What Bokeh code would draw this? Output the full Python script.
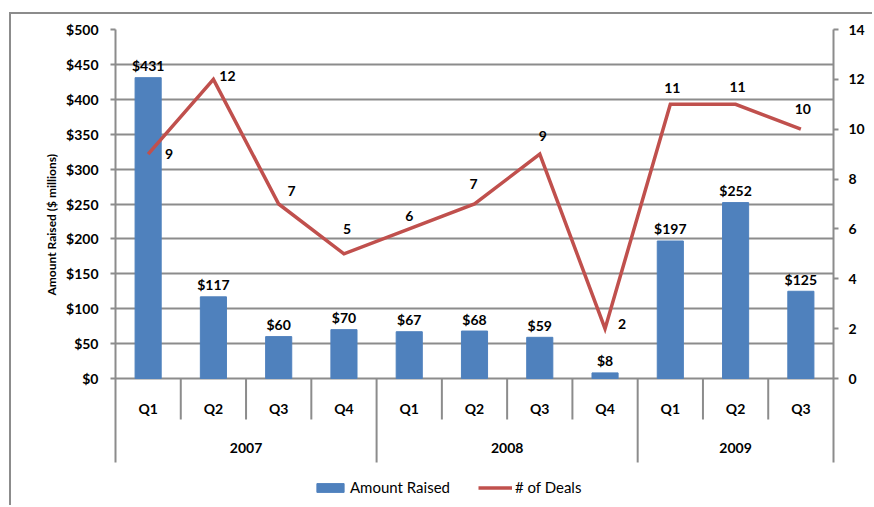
from bokeh.plotting import figure
from bokeh.models import (Range1d, LinearAxis, FixedTicker, PrintfTickFormatter,
                          ColumnDataSource, Legend, LegendItem, Title)
from bokeh.core.properties import value
from bokeh.embed import file_html
from bokeh.resources import INLINE
import math

# ---------------- data ----------------
years = ["2007", "2007", "2007", "2007", "2008", "2008", "2008", "2008", "2009", "2009", "2009"]
quarters = ["Q1", "Q2", "Q3", "Q4", "Q1", "Q2", "Q3", "Q4", "Q1", "Q2", "Q3"]
amount_raised = [431, 117, 60, 70, 67, 68, 59, 8, 197, 252, 125]
num_deals = [9, 12, 7, 5, 6, 7, 9, 2, 11, 11, 10]
left_ticks = [0, 50, 100, 150, 200, 250, 300, 350, 400, 450, 500]
right_ticks = [0, 2, 4, 6, 8, 10, 12, 14]

# ---------------- style / layout ----------------
FONT = "Lato"
BAR = "#4F81BD"
LINE = "#C0504D"
GRID = "#8c8c8c"
OFF_X, OFF_Y = 11, 14                # canvas origin on the page (after border)
W, H = 874 - OFF_X, 507 - OFF_Y
FR_L, FR_R, FR_T = 115 - OFF_X, 41, 29 - OFF_Y
PLOT_PX = 349                        # px from value 0 to top value
BELOW_PX = H - FR_T - PLOT_PX        # px of frame below the zero line
TABLE_PX = 84                        # depth of the category table
QSEP_PX = 41
# label offsets for the "# of Deals" data labels (pixels)
deal_dx = [21, 14, 13, 3, 0, -1, 3, 17, 2, 2, 2]
deal_dy = [0, -3, -13, -25, -13, -20, -18, -5, -16, -17, -20]

n = len(quarters)
xs = [i + 0.5 for i in range(n)]
ymax_l, ymax_r = left_ticks[-1], right_ticks[-1]
ymin_l = -BELOW_PX / PLOT_PX * ymax_l
ymin_r = -BELOW_PX / PLOT_PX * ymax_r

p = figure(width=W, height=H, output_backend="svg", toolbar_location=None,
           x_range=Range1d(0, n), y_range=Range1d(ymin_l, ymax_l),
           x_axis_location=None, min_border_left=FR_L, min_border_right=FR_R,
           min_border_top=FR_T, min_border_bottom=0)
p.styles = {"margin-left": "9px", "margin-top": "12px",
            "border-left": "2px solid #8c8c8c", "border-top": "2px solid #8c8c8c"}
p.outline_line_color = None
p.background_fill_color = "white"
p.border_fill_color = "white"
p.extra_y_ranges = {"deals": Range1d(ymin_r, ymax_r)}

# grid
p.xgrid.visible = False
p.ygrid.ticker = FixedTicker(ticks=left_ticks)
p.ygrid.bounds = (0, ymax_l)
p.ygrid.grid_line_color = GRID
p.ygrid.grid_line_width = 2

def style_axis(ax):
    ax.axis_line_color = GRID
    ax.axis_line_width = 2
    ax.major_tick_line_color = GRID
    ax.major_tick_line_width = 2
    ax.major_tick_out = 5
    ax.major_tick_in = 0
    ax.minor_tick_line_color = None
    ax.major_label_text_font = FONT
    ax.major_label_text_font_style = "bold"
    ax.major_label_text_font_size = "14px"
    ax.major_label_text_color = "#000000"

ly = p.yaxis[0]
style_axis(ly)
ly.ticker = FixedTicker(ticks=left_ticks)
ly.formatter = PrintfTickFormatter(format="$%d")
ly.bounds = (-TABLE_PX / PLOT_PX * ymax_l, ymax_l)
ly.major_label_standoff = 12

ry = LinearAxis(y_range_name="deals", ticker=FixedTicker(ticks=right_ticks))
style_axis(ry)
ry.bounds = (-TABLE_PX / PLOT_PX * ymax_r, ymax_r)
ry.major_label_standoff = 10
p.add_layout(ry, "right")

ttl = Title(text="Amount Raised ($ millions)", align="left", offset=212,
            text_font=FONT, text_font_size="12px", text_font_style="bold",
            text_color="#000000")
p.add_layout(ttl, "left")

# bars & line
src = ColumnDataSource(dict(x=xs, amt=amount_raised, deals=num_deals,
                            amt_lbl=["$%d" % v for v in amount_raised],
                            deal_lbl=[str(v) for v in num_deals],
                            dx=deal_dx, dy=deal_dy, q=quarters))
bars = p.vbar(x="x", top="amt", width=0.4, bottom=0, source=src,
              fill_color=BAR, line_color=BAR)
line = p.line(x="x", y="deals", source=src, y_range_name="deals",
              line_color=LINE, line_width=3.5, line_join="miter")

p.text(x="x", y="amt", text="amt_lbl", source=src, text_align="center",
       text_baseline="alphabetic", y_offset=-12, text_font=value(FONT),
       text_font_style="bold", text_font_size="14px", text_color="#000000")
p.text(x="x", y="deals", text="deal_lbl", source=src, y_range_name="deals",
       x_offset="dx", y_offset="dy", text_align="center", text_baseline="middle",
       text_font=value(FONT), text_font_style="bold", text_font_size="14px",
       text_color="#000000")

# category table below the zero line
p.text(x="x", y=0, text="q", source=src, text_align="center", text_baseline="middle",
       y_offset=30, text_font=value(FONT), text_font_style="bold",
       text_font_size="14px", text_color="#000000")

year_names, year_start, year_end = [], [], []
for i, y in enumerate(years):
    if not year_names or year_names[-1] != y:
        year_names.append(y)
        year_start.append(i)
        year_end.append(i + 1)
    else:
        year_end[-1] = i + 1
year_mid = [(a + b) / 2 for a, b in zip(year_start, year_end)]
p.text(x=year_mid, y=[0] * len(year_mid), text=year_names, text_align="center",
       text_baseline="middle", y_offset=69, text_font=value(FONT),
       text_font_style="bold", text_font_size="14px", text_color="#000000")

q_sep = [i for i in range(1, n) if years[i] == years[i - 1]]
y_sep = [i for i in range(1, n) if years[i] != years[i - 1]]
p.ray(x=q_sep, y=[0] * len(q_sep), length=QSEP_PX, angle=-math.pi / 2,
      length_units="screen", line_color=GRID, line_width=2)
p.ray(x=y_sep, y=[0] * len(y_sep), length=TABLE_PX, angle=-math.pi / 2,
      length_units="screen", line_color=GRID, line_width=2)

# legend
legend = Legend(items=[LegendItem(label="Amount Raised", renderers=[bars]),
                       LegendItem(label="# of Deals", renderers=[line])],
                orientation="horizontal", location=(198, 10),
                padding=0, margin=0, spacing=28, label_standoff=3,
                glyph_width=34, glyph_height=11, label_height=20,
                label_text_font=FONT, label_text_font_size="15px",
                label_text_color="#000000",
                border_line_color=None, background_fill_alpha=0)
p.add_layout(legend, "center")

open("out.html", "w").write(file_html(p, INLINE))
